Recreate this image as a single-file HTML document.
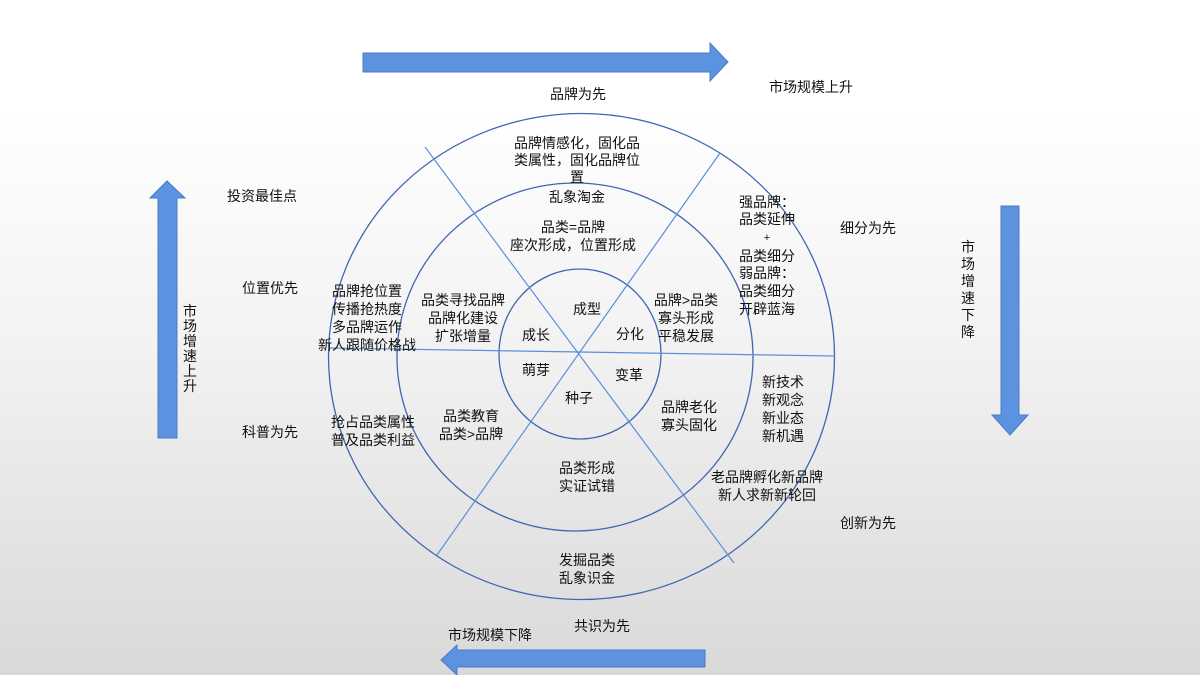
<!DOCTYPE html>
<html><head><meta charset="utf-8"><style>
html,body{margin:0;padding:0}
body{width:1200px;height:675px;overflow:hidden;background:linear-gradient(to bottom,#ffffff 0px,#ffffff 110px,#f2f2f2 350px,#d9d9d9 675px);}
svg{display:block}
text{font-family:"Liberation Sans","Noto Sans CJK SC",sans-serif;font-size:14px;fill:#111;text-anchor:middle}
</style></head><body>
<svg width="1200" height="675" viewBox="0 0 1200 675">
<g fill="#5b93e0" stroke="#4a7cc4" stroke-width="1">
<polygon points="363,53 710,53 710,43 728,62 710,81 710,72 363,72"/>
<polygon points="1001,206 1019,206 1019,415 1028,415 1010,435 992,415 1001,415"/>
<polygon points="158,438 177,438 177,198 185,198 167,181 150,198 158,198"/>
<polygon points="705,650 705,667 457,667 457,675 441,660 457,645 457,650"/>
</g>
<g fill="none" stroke="#3f67b0" stroke-width="1.3">
<ellipse cx="581.5" cy="356.5" rx="253" ry="243"/>
<ellipse cx="575" cy="357" rx="178" ry="174"/>
<ellipse cx="580" cy="354" rx="81" ry="85"/>
</g>
<g stroke="#5b8fdc" stroke-width="1.2">
<line x1="328" y1="348" x2="835" y2="356"/>
<line x1="425" y1="147" x2="734" y2="563"/>
<line x1="720" y1="153" x2="437" y2="555"/>
</g>
<text x="578" y="99">品牌为先</text>
<text x="811" y="92">市场规模上升</text>
<text x="262" y="201">投资最佳点</text>
<text x="270" y="293">位置优先</text>
<text x="270" y="437">科普为先</text>
<text x="868" y="233">细分为先</text>
<text x="868" y="528">创新为先</text>
<text x="602" y="631">共识为先</text>
<text x="490" y="640">市场规模下降</text>
<g>
<text x="190" y="316">市</text><text x="190" y="331">场</text><text x="190" y="346">增</text><text x="190" y="361">速</text><text x="190" y="376">上</text><text x="190" y="391">升</text>
<text x="968" y="252">市</text><text x="968" y="269">场</text><text x="968" y="286">增</text><text x="968" y="303">速</text><text x="968" y="320">下</text><text x="968" y="337">降</text>
</g>
<text x="577" y="148">品牌情感化，固化品</text>
<text x="577" y="165">类属性，固化品牌位</text>
<text x="577" y="182">置</text>
<text x="577" y="202">乱象淘金</text>
<text x="573" y="232">品类=品牌</text>
<text x="573" y="250">座次形成，位置形成</text>
<text x="767" y="207">强品牌：</text>
<text x="767" y="224">品类延伸</text>
<text x="767" y="241" style="font-size:11px">+</text>
<text x="767" y="261">品类细分</text>
<text x="767" y="278">弱品牌：</text>
<text x="767" y="296">品类细分</text>
<text x="767" y="314">开辟蓝海</text>
<text x="367" y="296">品牌抢位置</text>
<text x="367" y="314">传播抢热度</text>
<text x="367" y="332">多品牌运作</text>
<text x="367" y="350">新人跟随价格战</text>
<text x="463" y="305">品类寻找品牌</text>
<text x="463" y="323">品牌化建设</text>
<text x="463" y="341">扩张增量</text>
<text x="686" y="305">品牌&gt;品类</text>
<text x="686" y="323">寡头形成</text>
<text x="686" y="341">平稳发展</text>
<text x="587" y="314">成型</text>
<text x="536" y="340">成长</text>
<text x="630" y="339">分化</text>
<text x="536" y="375">萌芽</text>
<text x="629" y="380">变革</text>
<text x="579" y="403">种子</text>
<text x="783" y="387">新技术</text>
<text x="783" y="405">新观念</text>
<text x="783" y="423">新业态</text>
<text x="783" y="441">新机遇</text>
<text x="689" y="412">品牌老化</text>
<text x="689" y="430">寡头固化</text>
<text x="373" y="427">抢占品类属性</text>
<text x="373" y="445">普及品类利益</text>
<text x="471" y="421">品类教育</text>
<text x="471" y="439">品类&gt;品牌</text>
<text x="767" y="482">老品牌孵化新品牌</text>
<text x="767" y="500">新人求新新轮回</text>
<text x="587" y="473">品类形成</text>
<text x="587" y="491">实证试错</text>
<text x="587" y="565">发掘品类</text>
<text x="587" y="583">乱象识金</text>
</svg>
</body></html>
